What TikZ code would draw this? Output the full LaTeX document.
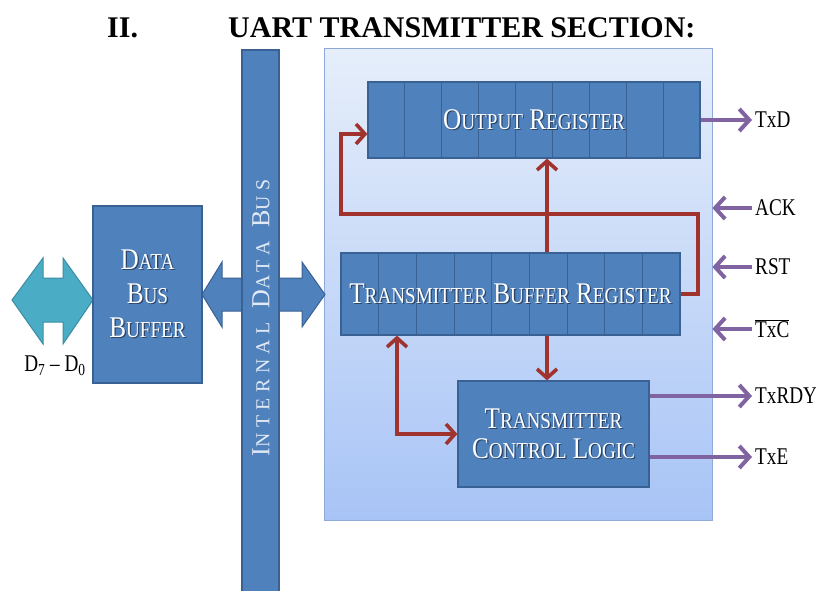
\documentclass[tikz,border=0pt]{standalone}
\usepackage{fontspec}
\usepackage{graphicx}
\usetikzlibrary{arrows.meta,calc}
\newfontfamily\blockfont[FakeStretch=0.84]{Liberation Serif}
\newfontfamily\busfont[LetterSpace=28]{Liberation Serif}
\newfontfamily\labelfont[FakeStretch=0.8]{Liberation Serif}
\newfontfamily\titlefont{Liberation Serif}
\newcommand\smc[1]{\scalebox{0.76}{#1}}
\definecolor{blk}{HTML}{4F81BD}
\definecolor{blkdark}{HTML}{3A6193}
\definecolor{txtshadow}{HTML}{2B4468}
\definecolor{tealarr}{HTML}{4BACC6}
\definecolor{tealdark}{HTML}{3A8DA5}
\definecolor{redc}{HTML}{A0332D}
\definecolor{purp}{HTML}{8064A2}
\definecolor{paneltop}{HTML}{E6EEFA}
\definecolor{panelbot}{HTML}{A8C4F6}
\definecolor{panelline}{HTML}{8FAAD8}
\definecolor{bustext}{HTML}{E2EAF6}
\newcommand\shtxt[1]{\makebox[0pt][l]{\hspace{1.3pt}\raisebox{-1.3pt}{\color{txtshadow}#1}}#1}
\tikzset{
  block/.style={draw=blkdark, line width=1.2pt, fill=blk, text=white,
    font=\blockfont\fontsize{30}{32}\selectfont, inner sep=0pt, align=center},
  reg/.style={block, path picture={
    \foreach \i in {1,...,8}
      \draw[blkdark, line width=1pt]
        ($(path picture bounding box.north west)!{\i/9}!(path picture bounding box.north east)$) --
        ($(path picture bounding box.south west)!{\i/9}!(path picture bounding box.south east)$);}},
  panelbox/.style={draw=panelline, line width=0.8pt, top color=paneltop, bottom color=panelbot,
    minimum width=388pt, minimum height=472pt, inner sep=0pt},
  redline/.style={draw=redc, line width=3.6pt, line join=miter},
  redtip/.style={-{Straight Barb[length=9pt,width=20pt]}},
  purpline/.style={draw=purp, line width=4pt, -{Straight Barb[length=10pt,width=22pt]}},
  sig/.style={font=\labelfont\fontsize{24}{26}\selectfont, anchor=west, inner xsep=3pt, inner ysep=0pt},
  title/.style={font=\titlefont\bfseries\fontsize{30}{32}\selectfont, anchor=base west, inner sep=0pt},
  fatarrow/.style={line width=1pt, line join=miter}
}
\begin{document}
\begin{tikzpicture}[x=1pt,y=-1pt]
\useasboundingbox (0,0) rectangle (816,590);
\fill[white] (0,0) rectangle (816,590);
% title
\node[title] (t1) at (107,37) {II.};
\node[title] (t2) at (228,37) {UART TRANSMITTER SECTION:};
% panel
\node[panelbox] (panel) at (518,284) {};
% blue double arrow (behind bus)
\draw[fatarrow, fill=blk, draw=blkdark] (202,294.5) -- (222,262) -- (222,278) -- (302,278) -- (302,262)
  -- (325,294.5) -- (302,327) -- (302,311) -- (222,311) -- (222,327) -- cycle;
% teal double arrow
\draw[fatarrow, fill=tealarr, draw=tealdark] (12,300) -- (43,258) -- (43,278) -- (63,278) -- (63,258)
  -- (93,300) -- (63,344) -- (63,322) -- (43,322) -- (43,344) -- cycle;
% internal data bus
\node[block, minimum width=37pt, minimum height=542pt] (bus) at (260.5,321) {};
\node[rotate=90, text=bustext, inner sep=0pt, font=\busfont\fontsize{26}{28}\selectfont] (bustxt)
  at (261,318) {I\smc{NTERNAL} D\smc{ATA} B\smc{US}};
% data bus buffer
\node[block, minimum width=109pt, minimum height=177pt] (dbb) at (147.5,294.5)
  {\shtxt{D\smc{ATA}}\\[2pt] \shtxt{B\smc{US}}\\[2pt] \shtxt{B\smc{UFFER}}};
\node[font=\labelfont\fontsize{24}{26}\selectfont, inner sep=0pt] (dlbl) at (55,366)
  {D\textsubscript{7} – D\textsubscript{0}};
% registers
\node[reg, minimum width=332pt, minimum height=76pt] (outreg) at (534,120)
  {\shtxt{O\smc{UTPUT} R\smc{EGISTER}}};
\node[reg, minimum width=339pt, minimum height=82pt] (tbr) at (510.5,294)
  {\shtxt{T\smc{RANSMITTER} B\smc{UFFER} R\smc{EGISTER}}};
\node[block, minimum width=191pt, minimum height=106pt] (tcl) at (553.5,434)
  {\shtxt{T\smc{RANSMITTER}}\\[-2pt] \shtxt{C\smc{ONTROL} L\smc{OGIC}}};
% red connectors
\coordinate (rc1) at (698,214);
\coordinate (rc2) at (341,214);
\coordinate (rx) at (547,0);
\coordinate (lx) at (397,0);
\draw[redline, redtip] (tbr.east) -| (rc1) -- (rc2) |- ($(outreg.west)+(0,14)$);
\draw[redline, redtip] (tbr.north -| rx) -- (outreg.south -| rx);
\draw[redline, redtip] (tbr.south -| rx) -- (tcl.north -| rx);
\draw[redline, {Straight Barb[length=9pt,width=20pt]}-{Straight Barb[length=9pt,width=20pt]}]
  (tbr.south -| lx) |- (tcl.west);
% signals
\node[sig] (txd) at (752,120) {TxD};
\node[sig] (ack) at (752,208) {ACK};
\node[sig] (rst) at (752,267) {RST};
\node[sig] (txc) at (752,329) {$\overline{\hbox{\labelfont\fontsize{24}{26}\selectfont TxC}}$};
\node[sig] (txrdy) at (752,396) {TxRDY};
\node[sig] (txe) at (752,457) {TxE};
\draw[purpline] (outreg.east) -- (txd.west);
\draw[purpline] (ack.west) -- (ack.west -| panel.east);
\draw[purpline] (rst.west) -- (rst.west -| panel.east);
\draw[purpline] (txc.west) -- (txc.west -| panel.east);
\draw[purpline] (tcl.east |- txrdy.west) -- (txrdy.west);
\draw[purpline] (tcl.east |- txe.west) -- (txe.west);
\end{tikzpicture}
\end{document}
